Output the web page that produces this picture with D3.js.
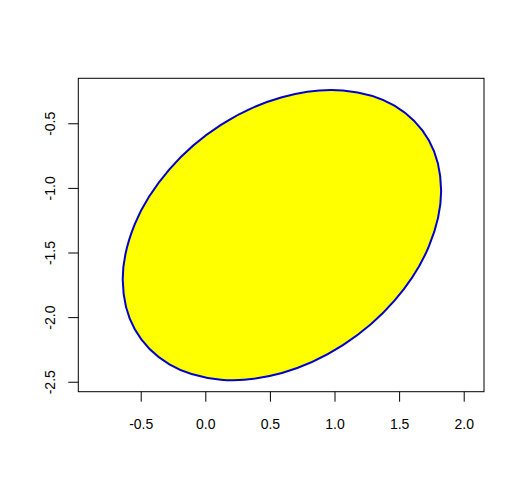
<!DOCTYPE html>
<html>
<head>
<meta charset="utf-8">
<script src="https://cdn.jsdelivr.net/npm/d3@7"></script>
<style>
  body { margin: 0; background: #fff; }
  svg { display: block; }
</style>
</head>
<body>
<svg width="525" height="490"></svg>
<script>
// boundary points of the ellipse
var ellipseX = [1.825, 1.731, 1.464, 1.065, 0.593, 0.121, -0.278, -0.545,
                -0.639, -0.545, -0.278, 0.121, 0.593, 1.065, 1.464, 1.731];
var ellipseY = [-1.016, -0.634, -0.364, -0.246, -0.298, -0.513, -0.857, -1.279,
                -1.714, -2.096, -2.366, -2.484, -2.432, -2.217, -1.873, -1.451];
var xTicks = [-0.5, 0.0, 0.5, 1.0, 1.5, 2.0];
var yTicks = [-2.5, -2.0, -1.5, -1.0, -0.5];

var svg = d3.select("svg"),
    box = {left: 78.3, right: 484, top: 78.3, bottom: 391.7};

var x = d3.scaleLinear()
  .domain([-0.983, 2.157])
  .range([box.left, box.right]);

var y = d3.scaleLinear()
  .domain([-2.577, -0.152])
  .range([box.bottom, box.top]);

var pts = ellipseX.map(function(v, i) { return [v, ellipseY[i]]; });

var outline = d3.line()
  .x(function(d) { return x(d[0]); })
  .y(function(d) { return y(d[1]); })
  .curve(d3.curveCatmullRomClosed.alpha(0.5));

svg.append("path")
  .datum(pts)
  .attr("d", outline)
  .style("fill", "#ffff00")
  .style("stroke", "#0000cd")
  .style("stroke-width", 2);

var fmt = function(d) { return d.toFixed(1); };

var gx = svg.append("g")
  .attr("transform", "translate(0," + box.bottom + ")")
  .call(d3.axisBottom(x).tickValues(xTicks).tickFormat(fmt).tickSize(10).tickSizeOuter(0).tickPadding(17));

var gy = svg.append("g")
  .attr("transform", "translate(" + box.left + ",0)")
  .call(d3.axisLeft(y).tickValues(yTicks).tickFormat(fmt).tickSize(10).tickSizeOuter(0));

gy.selectAll(".tick text")
  .attr("transform", "rotate(-90)")
  .attr("x", 0)
  .attr("y", -23)
  .attr("dy", 0)
  .attr("text-anchor", "middle");

svg.selectAll(".domain").remove();
svg.selectAll(".tick line").style("stroke", "#000");
svg.selectAll(".tick text")
  .style("font", "14px 'Liberation Sans', Arial, sans-serif")
  .style("fill", "#000");

svg.append("rect")
  .attr("x", box.left)
  .attr("y", box.top)
  .attr("width", box.right - box.left)
  .attr("height", box.bottom - box.top)
  .style("fill", "none")
  .style("stroke", "#000")
  .style("stroke-width", 1);
</script>
</body>
</html>
